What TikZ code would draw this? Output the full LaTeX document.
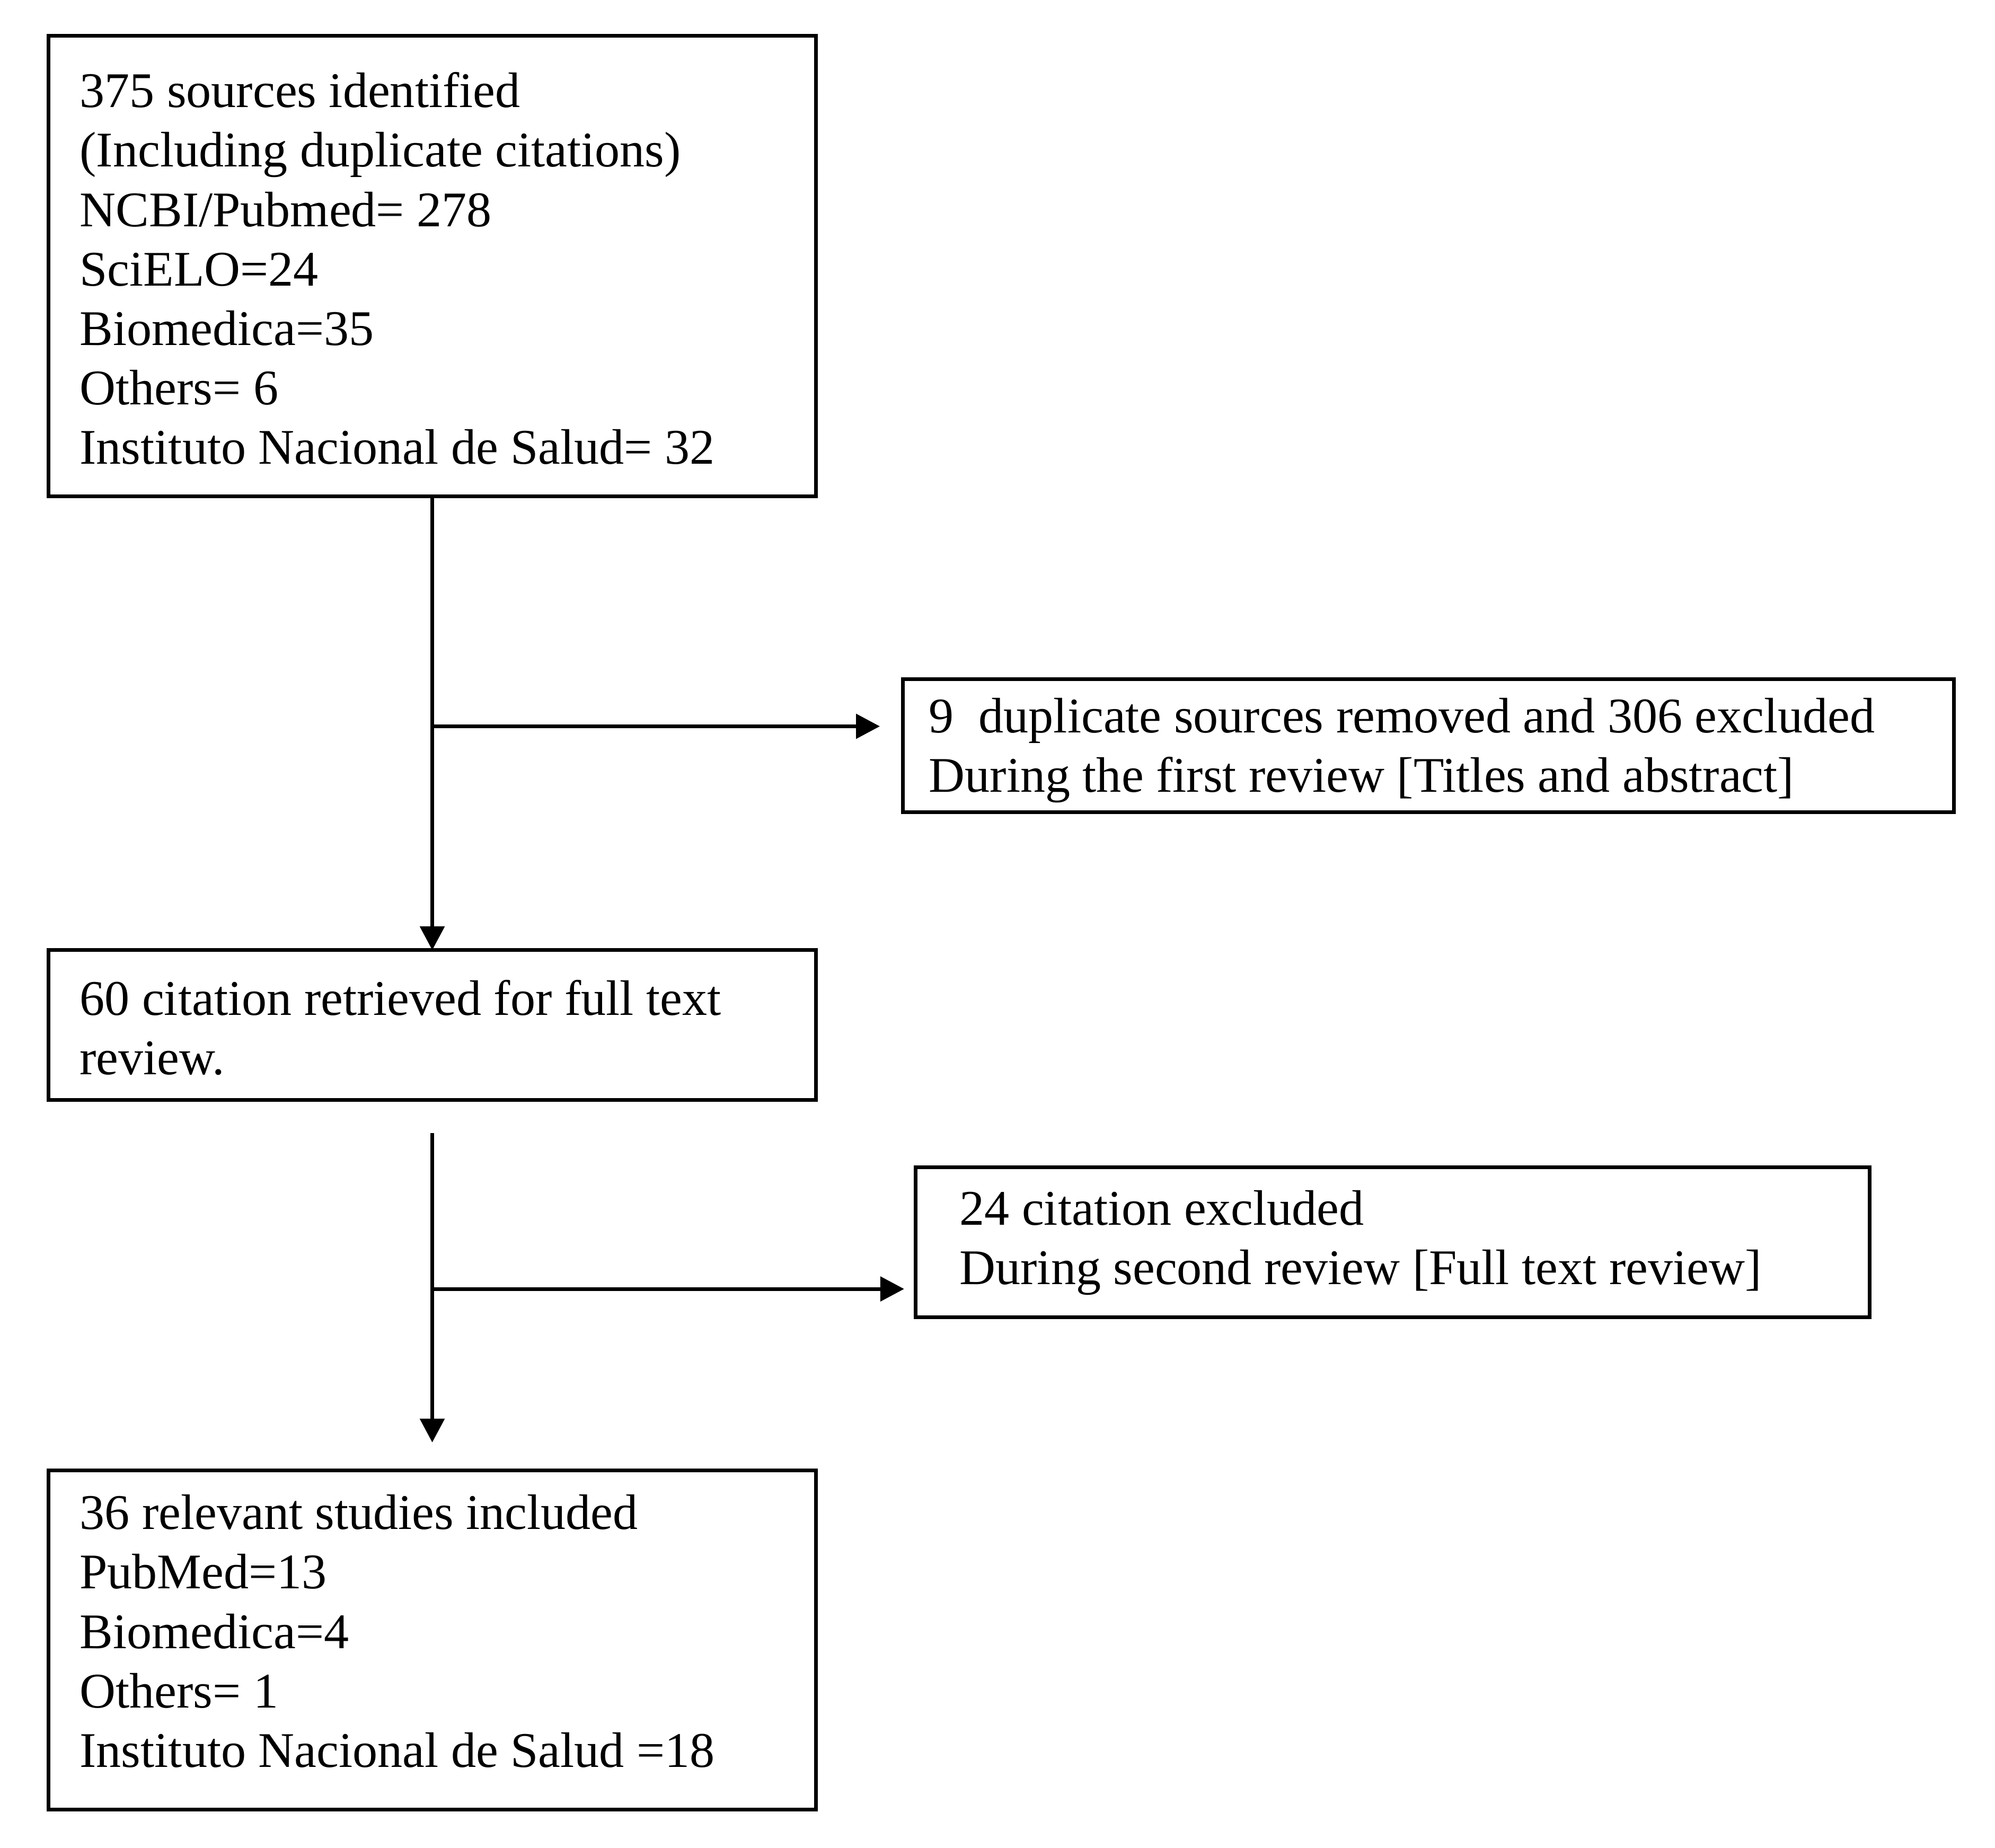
\documentclass[tikz,border=0pt]{standalone}
\usepackage{fontspec}
\setmainfont{Liberation Serif}
\usetikzlibrary{arrows.meta}
\begin{document}
\begin{tikzpicture}[x=0.5pt,y=-0.5pt,
  boxstyle/.style={draw=black,line width=1.45pt,anchor=north west,inner sep=0pt,outer sep=0pt},
  txt/.style={anchor=base west,inner sep=0pt,font=\fontsize{19.5}{23.25}\selectfont},
  conn/.style={draw=black,line width=1.4pt,-{Triangle[length=9.3pt,width=9.5pt]}}]
\useasboundingbox[fill=white] (0,0) rectangle (1560,1445);
% boxes
\node[boxstyle,minimum width=300pt,minimum height=180pt] (b1) at (38,28) {};
\node[boxstyle,minimum width=300pt,minimum height=58.5pt] (b2) at (38,743) {};
\node[boxstyle,minimum width=411pt,minimum height=52pt] (b3) at (706,531) {};
\node[boxstyle,minimum width=373pt,minimum height=58.5pt] (b4) at (716,913) {};
\node[boxstyle,minimum width=300pt,minimum height=132.5pt] (b5) at (38,1150) {};
% texts
\node[txt] (t1) at (62,84) {\begin{tabular}[t]{@{}l@{}}375 sources identified\\(Including duplicate citations)\\NCBI/Pubmed= 278\\SciELO=24\\Biomedica=35\\Others= 6\\Instituto Nacional de Salud= 32\end{tabular}};
\node[txt] (t2) at (62,794) {\begin{tabular}[t]{@{}l@{}}60 citation retrieved for full text\\review.\end{tabular}};
\node[txt] (t3) at (726,573) {\begin{tabular}[t]{@{}l@{}}9\ \ duplicate sources removed and 306 excluded\\During the first review [Titles and abstract]\end{tabular}};
\node[txt] (t4) at (750,958) {\begin{tabular}[t]{@{}l@{}}24 citation excluded\\During second review [Full text review]\end{tabular}};
\node[txt] (t5) at (62,1196) {\begin{tabular}[t]{@{}l@{}}36 relevant studies included\\PubMed=13\\Biomedica=4\\Others= 1\\Instituto Nacional de Salud =18\end{tabular}};
% connectors
\coordinate (j1) at (b1.south |- 0,568);
\coordinate (s2) at (b2.south |- 0,886);
\coordinate (j2) at (b2.south |- 0,1008);
\coordinate (e2) at (b2.south |- 0,1128);
\draw[conn] (b1.south) -- (b2.north);
\draw[conn,shorten >=9pt] (j1) -- (b3.west |- j1);
\draw[conn] (s2) -- (e2);
\draw[conn,shorten >=4.5pt] (j2) -- (b4.west |- j2);
\end{tikzpicture}
\end{document}
